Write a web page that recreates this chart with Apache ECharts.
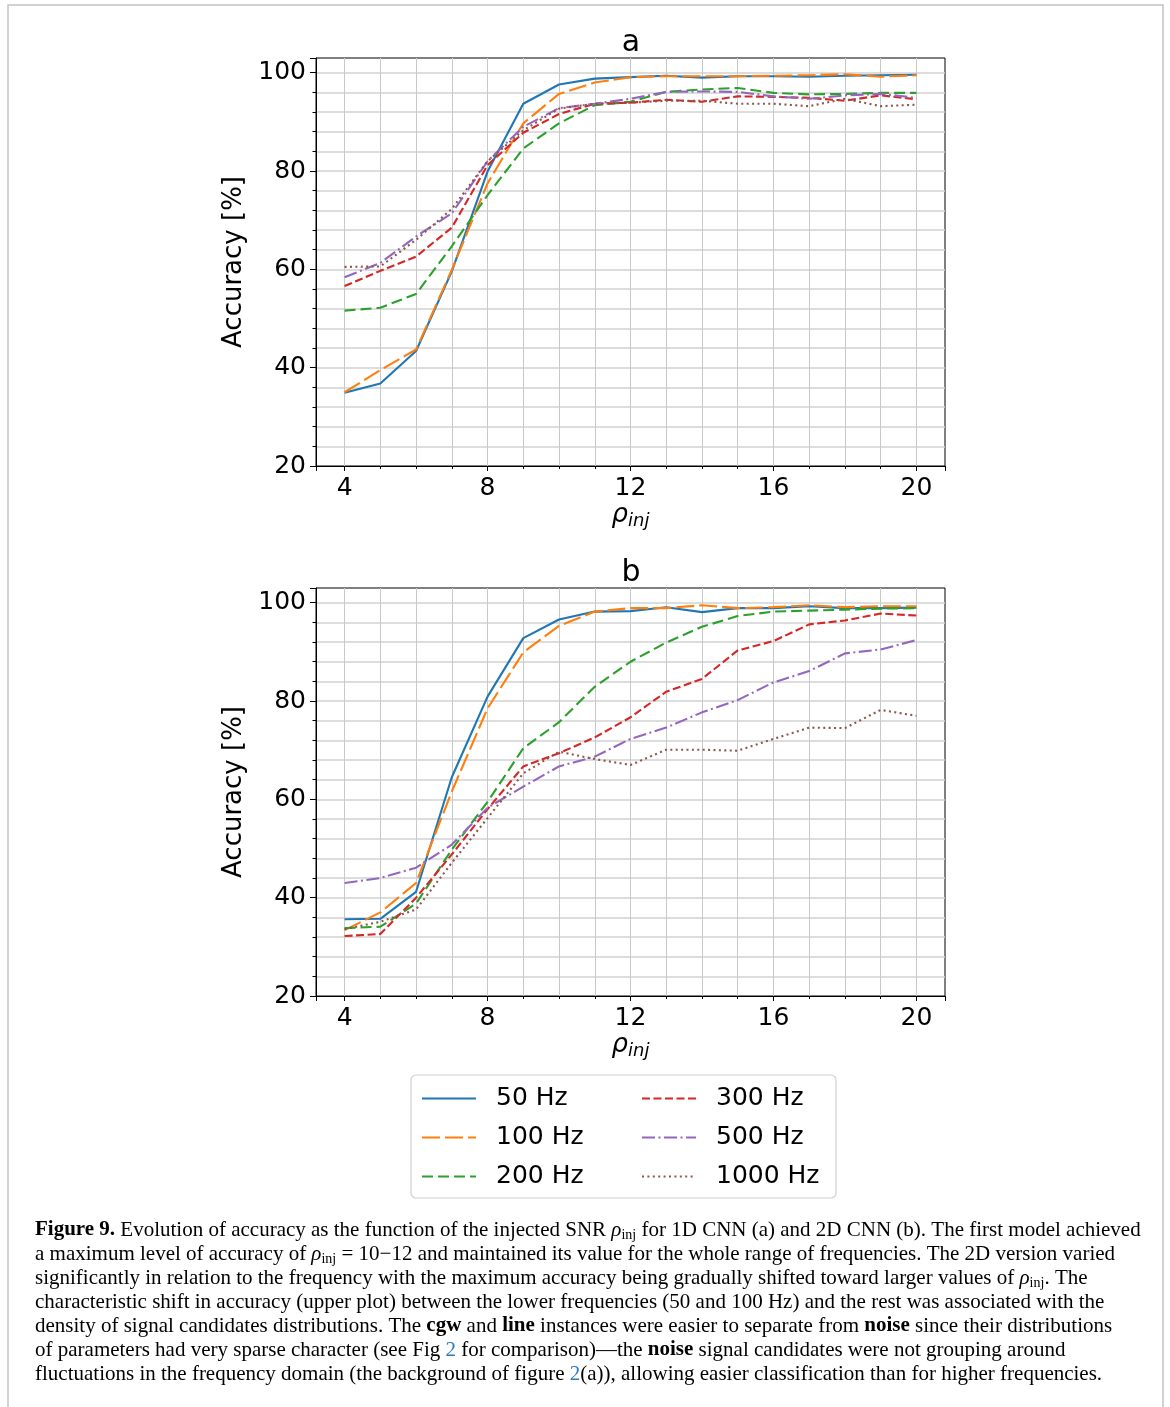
<!DOCTYPE html>
<html>
<head>
<meta charset="utf-8">
<title>Figure 9</title>
<script src="https://cdn.jsdelivr.net/npm/echarts@6/dist/echarts.min.js"></script>
<style>
  html, body { margin: 0; background: #fff; }
  #chart { width: 1170px; height: 1407px; }
</style>
</head>
<body>
<div id="chart"></div>
<script>
// injected SNR values (x axis)
const rho = [4, 5, 6, 7, 8, 9, 10, 11, 12, 13, 14, 15, 16, 17, 18, 19, 20]
const freqNames = ['50 Hz', '100 Hz', '200 Hz', '300 Hz', '500 Hz', '1000 Hz']

// panel a: 1D CNN accuracy [%]
const accA50 = [34.9, 36.8, 43.4, 59.6, 79.9, 93.7, 97.6, 98.8, 99.1, 99.4, 99.0, 99.3, 99.3, 99.2, 99.4, 99.5, 99.6]
const accA100 = [35.0, 39.5, 43.7, 59.9, 77.5, 89.7, 95.7, 98.0, 99.1, 99.3, 99.3, 99.3, 99.4, 99.5, 99.7, 99.2, 99.5]
const accA200 = [51.6, 52.2, 55.0, 64.7, 75.1, 84.6, 89.7, 93.4, 94.1, 96.1, 96.6, 96.9, 95.9, 95.6, 95.7, 95.9, 95.9]
const accA300 = [56.6, 59.7, 62.6, 68.5, 81.2, 87.8, 91.6, 93.7, 93.9, 94.5, 94.1, 95.2, 95.1, 94.9, 94.3, 95.4, 94.6]
const accA500 = [58.4, 61.3, 66.7, 71.4, 82.0, 89.0, 92.8, 93.7, 94.7, 96.1, 96.2, 96.1, 95.2, 94.7, 95.4, 95.7, 94.9]
const accA1000 = [60.5, 60.6, 66.0, 72.3, 82.0, 88.3, 92.7, 93.7, 93.9, 94.3, 94.3, 93.7, 93.7, 93.2, 94.7, 93.2, 93.5]

// panel b: 2D CNN accuracy [%]
const accB50 = [35.6, 35.7, 41.2, 64.5, 80.9, 92.8, 96.6, 98.2, 98.3, 99.1, 98.1, 98.9, 98.9, 99.3, 98.9, 98.9, 99.0]
const accB100 = [33.4, 37.0, 43.0, 61.6, 78.5, 89.9, 95.3, 98.2, 98.9, 98.9, 99.5, 98.9, 99.1, 99.5, 99.1, 99.3, 99.3]
const accB200 = [33.8, 34.1, 38.8, 49.8, 59.5, 70.4, 75.7, 82.9, 88.0, 91.9, 95.1, 97.3, 98.2, 98.4, 98.6, 98.8, 98.9]
const accB300 = [32.2, 32.6, 40.0, 48.8, 58.0, 66.7, 69.4, 72.6, 76.7, 81.9, 84.5, 90.3, 92.2, 95.6, 96.4, 97.8, 97.4]
const accB500 = [43.0, 44.0, 46.1, 50.8, 58.3, 62.6, 66.7, 68.7, 72.3, 74.6, 77.7, 80.2, 83.8, 86.1, 89.7, 90.5, 92.4]
const accB1000 = [33.6, 35.1, 37.6, 47.1, 56.2, 65.3, 69.7, 68.2, 67.0, 70.1, 70.1, 69.9, 72.3, 74.6, 74.5, 78.2, 77.0]

const panelA = [accA50, accA100, accA200, accA300, accA500, accA1000]
const panelB = [accB50, accB100, accB200, accB300, accB500, accB1000]

// matplotlib tab10 look, one per frequency
const looks = [
  { color: '#1f77b4', type: 'solid' },
  { color: '#ff7f0e', type: [18, 5] },
  { color: '#2ca02c', type: [11, 5] },
  { color: '#d62728', type: [8, 3.5] },
  { color: '#9467bd', type: [13, 3.5, 2, 3.5] },
  { color: '#8c564b', type: [2, 3.4] }
]

const FONT = 'DejaVu Sans'
const SERIF = 'Liberation Serif'

function makeSeries (gridIdx, arrays) {
  return arrays.map((arr, k) => ({
    name: freqNames[k],
    type: 'line',
    xAxisIndex: gridIdx,
    yAxisIndex: gridIdx,
    symbol: 'none',
    data: rho.map((x, i) => [x, arr[i]]),
    color: looks[k].color,
    lineStyle: { color: looks[k].color, width: 2.1, type: looks[k].type }
  }))
}

function xAxisFor (gridIdx) {
  return {
    type: 'value',
    gridIndex: gridIdx,
    min: 3.2,
    max: 20.8,
    minInterval: 4,
    maxInterval: 4,
    axisLine: { show: true, onZero: false, lineStyle: { color: '#000', width: 1 } },
    axisTick: { show: true, length: 5, lineStyle: { color: '#000' } },
    minorTick: { show: true, splitNumber: 4, length: 3, lineStyle: { color: '#000' } },
    splitLine: { show: true, showMinLine: false, showMaxLine: false, lineStyle: { color: '#c9c9c9', width: 1 } },
    minorSplitLine: { show: true, lineStyle: { color: '#c9c9c9', width: 1 } },
    axisLabel: {
      margin: 10, fontSize: 25, color: '#000', fontFamily: FONT,
      formatter: v => (Math.abs(v % 4) < 1e-9 ? String(v) : '')
    },
    name: '{r|ρ}{s|inj}',
    nameLocation: 'middle',
    nameGap: 33,
    nameTextStyle: {
      rich: {
        r: { fontSize: 26, fontStyle: 'italic', fontFamily: FONT, color: '#000', lineHeight: 30 },
        s: { fontSize: 18, fontStyle: 'italic', fontFamily: FONT, color: '#000', lineHeight: 20, verticalAlign: 'bottom' }
      }
    }
  }
}

function yAxisFor (gridIdx) {
  return {
    type: 'value',
    gridIndex: gridIdx,
    min: 20,
    max: 103,
    interval: 20,
    axisLine: { show: true, onZero: false, lineStyle: { color: '#000', width: 1 } },
    axisTick: { show: true, length: 6, lineStyle: { color: '#000' } },
    minorTick: { show: true, splitNumber: 5, length: 3.5, lineStyle: { color: '#000' } },
    splitLine: { show: true, showMinLine: false, showMaxLine: false, lineStyle: { color: '#d2d2d2', width: 1.5 } },
    minorSplitLine: { show: true, lineStyle: { color: '#d2d2d2', width: 1.5 } },
    axisLabel: {
      margin: 10, fontSize: 25, color: '#000', fontFamily: FONT,
      formatter: v => (Math.abs(v % 20) < 1e-9 ? String(v) : '')
    },
    name: 'Accuracy [%]',
    nameLocation: 'middle',
    nameGap: 58,
    nameTextStyle: { fontSize: 26, fontFamily: FONT, color: '#000' }
  }
}

function legendFor (left, names) {
  return {
    orient: 'vertical',
    left: left,
    top: 1079,
    padding: 0,
    itemGap: 0,
    itemWidth: 54,
    itemHeight: 14,
    data: names,
    itemStyle: { opacity: 0, borderWidth: 0 },
    textStyle: { fontSize: 25, fontFamily: FONT, color: '#000', lineHeight: 39, padding: [0, 0, 0, 15] }
  }
}

// caption, line by line
const rho_ = '{i|ρ}{s|inj}'
const captionLines = [
  '{b|Figure 9.} Evolution of accuracy as the function of the injected SNR ' + rho_ + ' for 1D CNN (a) and 2D CNN (b). The first model achieved',
  'a maximum level of accuracy of ' + rho_ + ' = 10−12 and maintained its value for the whole range of frequencies. The 2D version varied',
  'significantly in relation to the frequency with the maximum accuracy being gradually shifted toward larger values of ' + rho_ + '. The',
  'characteristic shift in accuracy (upper plot) between the lower frequencies (50 and 100 Hz) and the rest was associated with the',
  'density of signal candidates distributions. The {b|cgw} and {b|line} instances were easier to separate from {b|noise} since their distributions',
  'of parameters had very sparse character (see Fig {l|2} for comparison)—the {b|noise} signal candidates were not grouping around',
  'fluctuations in the frequency domain (the background of figure {l|2}(a)), allowing easier classification than for higher frequencies.'
]
const capSize = 21
const captionRich = {
  b: { fontSize: capSize, fontFamily: SERIF, fontWeight: 'bold', fill: '#000', lineHeight: 24 },
  i: { fontSize: capSize, fontFamily: SERIF, fontStyle: 'italic', fill: '#000', lineHeight: 24 },
  s: { fontSize: 14, fontFamily: SERIF, fill: '#000', lineHeight: 15, verticalAlign: 'bottom' },
  l: { fontSize: capSize, fontFamily: SERIF, fill: '#2b7bbd', lineHeight: 24 }
}

const graphics = [
  { type: 'rect', z: -10, shape: { x: 8, y: 5, width: 1155, height: 1430 }, style: { fill: 'none', stroke: '#c4c4c4', lineWidth: 1.5 } },
  { type: 'rect', z: 0, shape: { x: 411, y: 1075, width: 425, height: 123, r: 5 }, style: { fill: '#fff', stroke: '#d0d0d0', lineWidth: 1.2 } },
  { type: 'text', x: 631, y: 43, style: { text: 'a', fontSize: 30, fontFamily: FONT, fill: '#000', align: 'center', verticalAlign: 'middle' } },
  { type: 'text', x: 631, y: 573, style: { text: 'b', fontSize: 30, fontFamily: FONT, fill: '#000', align: 'center', verticalAlign: 'middle' } }
]
captionLines.forEach((line, i) => {
  graphics.push({
    type: 'text',
    x: 35,
    y: 1230 + i * 24,
    style: {
      text: line,
      fontSize: capSize,
      fontFamily: SERIF,
      fill: '#000',
      lineHeight: 24,
      verticalAlign: 'middle',
      rich: captionRich
    }
  })
})

const option = {
  animation: false,
  backgroundColor: '#fff',
  textStyle: { fontFamily: FONT },
  grid: [
    { left: 316, top: 58, width: 629, height: 408, show: true, borderColor: '#000', borderWidth: 1, backgroundColor: 'transparent' },
    { left: 316, top: 588, width: 629, height: 408, show: true, borderColor: '#000', borderWidth: 1, backgroundColor: 'transparent' }
  ],
  xAxis: [xAxisFor(0), xAxisFor(1)],
  yAxis: [yAxisFor(0), yAxisFor(1)],
  legend: [legendFor(421, freqNames.slice(0, 3)), legendFor(641, freqNames.slice(3))],
  graphic: graphics,
  series: makeSeries(0, panelA).concat(makeSeries(1, panelB))
}

const myChart = echarts.init(document.getElementById('chart'))
myChart.setOption(option)
</script>
</body>
</html>
